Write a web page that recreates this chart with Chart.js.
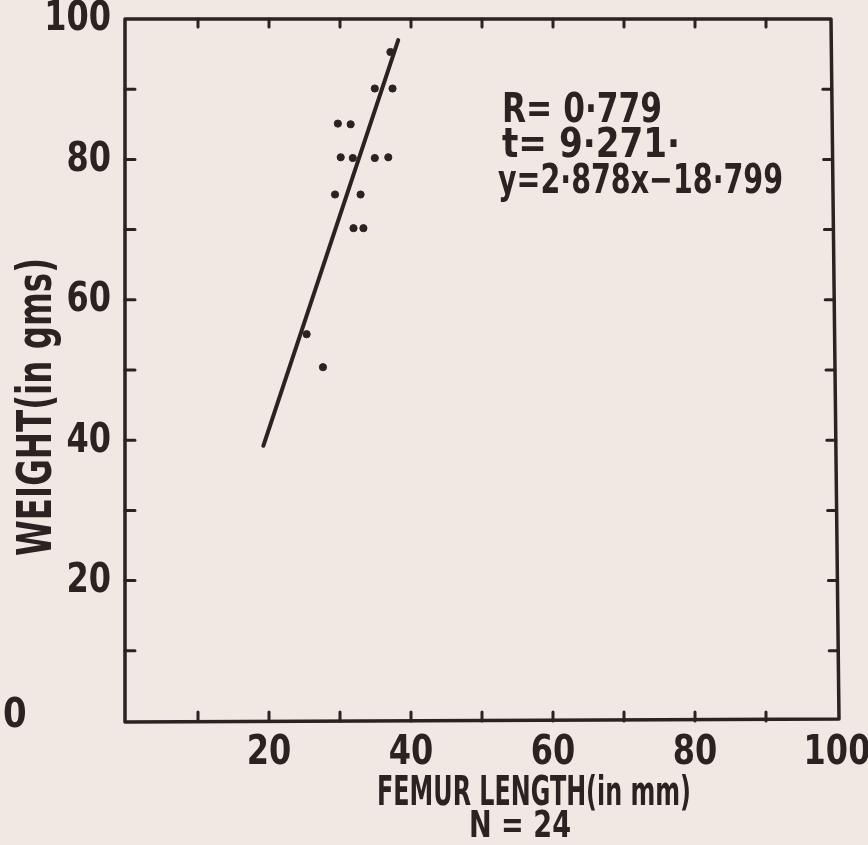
<!DOCTYPE html>
<html>
<head>
<meta charset="utf-8">
<script src="https://cdn.jsdelivr.net/npm/chart.js@4.4.1/dist/chart.umd.min.js"></script>
<style>
  html, body { margin: 0; padding: 0; background: #f0e9e3; }
  #wrap { width: 868px; height: 845px; position: relative; }
</style>
</head>
<body>
<div id="wrap"><canvas id="femurChart" width="868" height="845"></canvas></div>
<script>
// femur length (mm) vs body weight (g)
const femurLength = [37.1, 34.9, 37.4, 29.7, 31.5, 30.1, 31.8, 34.9, 36.8, 29.3, 32.9, 31.9, 33.3, 25.3, 27.6];
const weight      = [95.3, 90.1, 90.1, 85.1, 85.0, 80.3, 80.2, 80.2, 80.3, 75.0, 75.0, 70.2, 70.2, 55.1, 50.4];

// fitted line as drawn
const fitX = [19.2, 38.2];
const fitY = [39.2, 97.0];

const xTickLabels = [20, 40, 60, 80, 100];
const yTickLabels = [0, 20, 40, 60, 80, 100];
const minorTicks = [10, 20, 30, 40, 50, 60, 70, 80, 90];

const statLines = ["R= 0·779", "t= 9·271·", "y=2·878x−18·799"];

const INK = "#2b2221";
const FONT = "'DejaVu Sans', sans-serif";

// draw text squeezed horizontally by sx
function squeezed(ctx, text, x, y, sx, align) {
  const w = ctx.measureText(text).width * sx;
  let left = x;
  if (align === "center") left = x - w / 2;
  if (align === "right") left = x - w;
  ctx.save();
  ctx.translate(left, y);
  ctx.scale(sx, 1);
  ctx.textAlign = "left";
  ctx.fillText(text, 0, 0);
  ctx.restore();
}

// draw text squeezed to a given width
function fitText(ctx, text, x, y, width) {
  const w = ctx.measureText(text).width;
  squeezed(ctx, text, x, y, width / w, "left");
}

const frame = {
  id: "frame",
  afterDatasetsDraw(chart) {
    const { ctx, chartArea: a, scales } = chart;
    const xs = scales.x, ys = scales.y;
    ctx.save();
    ctx.strokeStyle = INK;
    ctx.fillStyle = INK;
    ctx.lineCap = "round";
    ctx.lineJoin = "round";

    // box
    ctx.lineWidth = 3.5;
    ctx.beginPath();
    ctx.moveTo(a.left - 2, a.top);
    ctx.lineTo(a.right - 6, a.top);
    ctx.lineTo(a.right + 2, a.bottom - 2);
    ctx.lineTo(a.left - 2, a.bottom + 1);
    ctx.closePath();
    ctx.stroke();

    // inward ticks on all four sides
    ctx.lineWidth = 3;
    minorTicks.forEach(v => {
      const px = xs.getPixelForValue(v);
      const py = ys.getPixelForValue(v);
      ctx.beginPath();
      ctx.moveTo(px, a.bottom); ctx.lineTo(px, a.bottom - 9);
      ctx.moveTo(px, a.top); ctx.lineTo(px, a.top + 8);
      ctx.moveTo(a.left - 2, py); ctx.lineTo(a.left + 8, py);
      const rx = a.right - 6 + 8 * (py - a.top) / (a.bottom - a.top);
      ctx.moveTo(rx, py); ctx.lineTo(rx - 9, py);
      ctx.stroke();
    });

    // tick labels
    ctx.font = "bold 40px " + FONT;
    ctx.textBaseline = "middle";
    yTickLabels.forEach(v => {
      const py = ys.getPixelForValue(v);
      if (v === 0) {
        squeezed(ctx, "0", 3, py - 4, 0.85, "left");
      } else {
        squeezed(ctx, String(v), 111, py + 1, 0.8, "right");
      }
    });
    xTickLabels.forEach(v => {
      squeezed(ctx, String(v), xs.getPixelForValue(v), a.bottom + 33, 0.8, "center");
    });

    // axis titles
    ctx.textBaseline = "alphabetic";
    ctx.font = "bold 41px " + FONT;
    fitText(ctx, "FEMUR LENGTH(in mm)", 377, 805, 314);
    ctx.font = "bold 37px " + FONT;
    fitText(ctx, "N = 24", 469, 837, 102);

    ctx.save();
    ctx.translate(51, 556);
    ctx.rotate(-Math.PI / 2);
    ctx.font = "bold 48px " + FONT;
    fitText(ctx, "WEIGHT(in gms)", 0, 0, 298);
    ctx.restore();

    // regression stats
    ctx.font = "bold 40px " + FONT;
    fitText(ctx, statLines[0], 502, 122, 160);
    fitText(ctx, statLines[1], 502, 157, 178);
    fitText(ctx, statLines[2], 498, 193, 285);

    ctx.restore();
  }
};

const ctx = document.getElementById("femurChart").getContext("2d");
new Chart(ctx, {
  type: "scatter",
  data: {
    datasets: [
      {
        label: "Weight",
        data: femurLength.map((x, i) => ({ x: x, y: weight[i] })),
        backgroundColor: INK,
        borderColor: INK,
        pointRadius: 3.6,
        pointHoverRadius: 3.6
      },
      {
        label: "Fit",
        data: fitX.map((x, i) => ({ x: x, y: fitY[i] })),
        showLine: true,
        borderColor: INK,
        borderWidth: 4,
        borderCapStyle: "round",
        pointRadius: 0
      }
    ]
  },
  plugins: [frame],
  options: {
    responsive: false,
    animation: false,
    layout: { padding: { left: 127, top: 19, right: 31, bottom: 124 } },
    plugins: {
      legend: { display: false },
      tooltip: { enabled: false }
    },
    scales: {
      x: { type: "linear", min: 0, max: 100, display: false },
      y: { type: "linear", min: 0, max: 100, display: false }
    }
  }
});
</script>
</body>
</html>
